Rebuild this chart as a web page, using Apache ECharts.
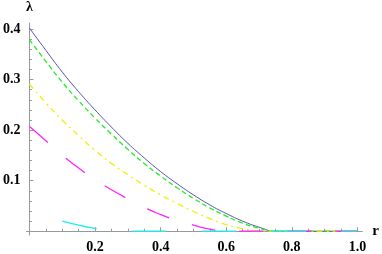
<!DOCTYPE html>
<html><head><meta charset="utf-8">
<script src="https://cdn.jsdelivr.net/npm/echarts@6/dist/echarts.min.js"></script>
<style>html,body{margin:0;padding:0;background:#fff}#c{width:382px;height:254px}</style>
</head><body><div id="c"></div>
<script>
const rValues      = [0, 0.05, 0.1, 0.15, 0.2, 0.25, 0.3, 0.35, 0.4, 0.45, 0.5, 0.55, 0.6, 0.65, 0.7, 0.75, 0.8, 0.85, 0.9, 0.95, 1.0];
const blueLambda   = [0.402, 0.358, 0.315, 0.276, 0.240, 0.206, 0.174, 0.145, 0.118, 0.094, 0.072, 0.052, 0.035, 0.020, 0.008, 0, 0, 0, 0, 0, 0];
const greenLambda  = [0.379, 0.336, 0.295, 0.258, 0.224, 0.192, 0.162, 0.134, 0.109, 0.086, 0.065, 0.046, 0.030, 0.016, 0.006, 0, 0, 0, 0, 0, 0];
const yellowLambda = [0.291, 0.254, 0.220, 0.189, 0.160, 0.134, 0.112, 0.091, 0.072, 0.055, 0.039, 0.025, 0.013, 0.005, 0, 0, 0, 0, 0, 0, 0];
const magentaLambda= [0.207, 0.179, 0.150, 0.125, 0.102, 0.082, 0.064, 0.047, 0.033, 0.021, 0.012, 0.004, 0, 0, 0, 0, 0, 0, 0, 0, 0];
const cyanLambda   = [null, null, 0.020, 0.012, 0.0055, 0.001, 0, 0, 0, 0, 0, 0, 0, 0, 0, 0, 0, 0, 0, 0, 0];

const xMajorTicks = [0.2, 0.4, 0.6, 0.8, 1.0];
const xMinorTicks = [0.05, 0.1, 0.15, 0.25, 0.3, 0.35, 0.45, 0.5, 0.55, 0.65, 0.7, 0.75, 0.85, 0.9, 0.95];
const yMajorTicks = [0.1, 0.2, 0.3, 0.4];
const yMinorTicks = [0.02, 0.04, 0.06, 0.08, 0.12, 0.14, 0.16, 0.18, 0.22, 0.24, 0.26, 0.28, 0.32, 0.34, 0.36, 0.38];

const pair = arr => rValues.map((r, i) => [r, arr[i]]).filter(p => p[1] !== null);

const AX = '#999999';
const labelFont = { fontFamily: 'Liberation Serif', fontWeight: 'bold', fontSize: 14, color: '#000' };
const XMIN = -0.009, XMAX = 1.015, YMIN = -0.0075, YMAX = 0.412;

const chart = echarts.init(document.getElementById('c'), null, { renderer: 'canvas' });
chart.setOption({
  animation: false,
  backgroundColor: '#fff',
  grid: { left: 20, top: 23, width: 343, height: 215, containLabel: false },
  xAxis: [
    { type: 'value', min: XMIN, max: XMAX, position: 'bottom',
      name: 'r', nameLocation: 'end', nameGap: 10,
      nameTextStyle: Object.assign({}, labelFont, { fontSize: 15, verticalAlign: 'middle' }),
      axisLine: { show: true, onZero: true, onZeroAxisIndex: 0, lineStyle: { color: AX, width: 1 } },
      axisTick: { show: true, inside: true, length: 4, customValues: xMajorTicks, lineStyle: { color: AX } },
      axisLabel: Object.assign({ show: true, margin: 5, customValues: xMajorTicks, formatter: v => v.toFixed(1) }, labelFont),
      splitLine: { show: false } },
    { type: 'value', min: XMIN, max: XMAX, position: 'bottom',
      axisLine: { show: false, onZero: true, onZeroAxisIndex: 0 },
      axisTick: { show: true, inside: true, length: 2.5, customValues: xMinorTicks, lineStyle: { color: AX } },
      axisLabel: { show: false }, splitLine: { show: false } }
  ],
  yAxis: [
    { type: 'value', min: YMIN, max: YMAX, position: 'left',
      name: 'λ', nameLocation: 'end', nameGap: 9,
      nameTextStyle: Object.assign({}, labelFont, { fontSize: 14, align: 'center', padding: [0, 0, 0, 0] }),
      axisLine: { show: true, onZero: true, onZeroAxisIndex: 0, lineStyle: { color: AX, width: 1 } },
      axisTick: { show: true, inside: true, length: 4, customValues: yMajorTicks, lineStyle: { color: AX } },
      axisLabel: Object.assign({ show: true, margin: 6, customValues: yMajorTicks, formatter: v => v.toFixed(1) }, labelFont),
      splitLine: { show: false } },
    { type: 'value', min: YMIN, max: YMAX, position: 'left',
      axisLine: { show: false, onZero: true, onZeroAxisIndex: 0 },
      axisTick: { show: true, inside: true, length: 2.5, customValues: yMinorTicks, lineStyle: { color: AX } },
      axisLabel: { show: false }, splitLine: { show: false } }
  ],
  series: [
    { type: 'line', data: pair(blueLambda), showSymbol: false, smooth: true,
      lineStyle: { color: '#5656a8', width: 1, type: 'solid' } },
    { type: 'line', data: pair(greenLambda), showSymbol: false, smooth: true,
      lineStyle: { color: '#22ee22', width: 1.3, type: [5, 3] } },
    { type: 'line', data: pair(yellowLambda), showSymbol: false, smooth: true,
      lineStyle: { color: '#f0f000', width: 1.3, type: [6, 4, 2, 4] } },
    { type: 'line', data: pair(magentaLambda), showSymbol: false, smooth: true,
      lineStyle: { color: '#ff22ff', width: 1.3, type: [24, 24] } },
    { type: 'line', data: pair(cyanLambda), showSymbol: false, smooth: true,
      lineStyle: { color: '#22eeee', width: 1.3, type: [35, 35] } }
  ]
});
</script>
</body></html>
